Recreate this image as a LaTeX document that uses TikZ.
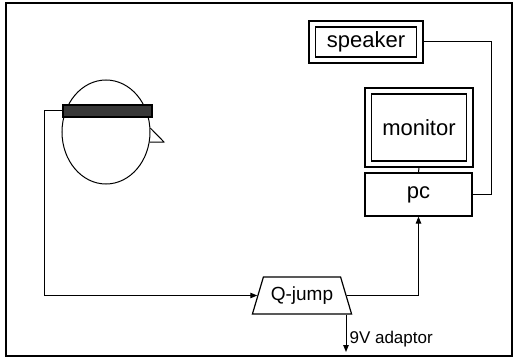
\documentclass[tikz,border=0pt]{standalone}
\usepackage{fontspec}
\setmainfont{Liberation Sans}
\usetikzlibrary{shapes.geometric,arrows.meta,calc}
\begin{document}
\begin{tikzpicture}[x=1pt,y=-1pt,
  line width=1.1pt,
  box/.style={draw, rectangle, inner sep=0pt, line width=1.2pt},
  wire/.style={line width=1pt},
  feed/.style={wire, -{Triangle[length=7pt,width=5.5pt]}},
  big/.style={font=\fontsize{22}{22}\selectfont},
  mid/.style={font=\fontsize{19}{19}\selectfont},
  small/.style={font=\fontsize{17}{17}\selectfont}]
\useasboundingbox (0,0) rectangle (515,361);
% outer frame
\draw[line width=1.3pt] (6,3) rectangle (512,356);

% speaker (double box)
\node[box, minimum width=114pt, minimum height=42pt] (spk) at (366,42) {};
\node[box, minimum width=101pt, minimum height=30pt, big] (spkin) at (spk.center) {speaker};

% monitor (double box)
\node[box, minimum width=108pt, minimum height=79pt] (mon) at (419,127.5) {};
\node[box, minimum width=95pt, minimum height=67pt, big] (monin) at (mon.center) {monitor};

% pc
\node[box, minimum width=107pt, minimum height=43pt, big] (pc) at (418.5,194.5) {pc};

% Q-jump amplifier
\node[draw, trapezium, trapezium stretches=true, trapezium angle=63.4,
      minimum width=100pt, minimum height=37pt, inner sep=0pt, line width=1.2pt, mid]
      (q) at (302,295.5) {Q-jump};

% head with electrode band and nose
\node[draw, ellipse, minimum width=88pt, minimum height=104pt, inner sep=0pt, line width=1pt]
      (head) at (106,132) {};
\coordinate (nosetip) at (164,142);
\draw[line width=1pt, line join=miter] (head.5) -- (nosetip) -- (head.-13);
\node[draw=black, fill=black!78, rectangle, minimum width=89pt, minimum height=12pt,
      inner sep=0pt, line width=1.5pt] (band) at (107.5,111) {};

% connections
\coordinate (lc) at (44,111);
\draw[feed] (band.west) -- (lc) |- (q.west);
\draw[feed] (q.east) -| (pc.south);
\draw[wire] (mon.south) -- (pc.north);
\coordinate (sr) at (491,0);
\draw[wire] (spk.east) -- (spk.east -| sr) |- (pc.east);
\coordinate (adp) at (346,352);
\draw[feed] (q.south -| adp) -- (adp);
\node[anchor=base west, small, inner sep=0pt] (adptxt) at (349,343) {9V adaptor};
\end{tikzpicture}
\end{document}
